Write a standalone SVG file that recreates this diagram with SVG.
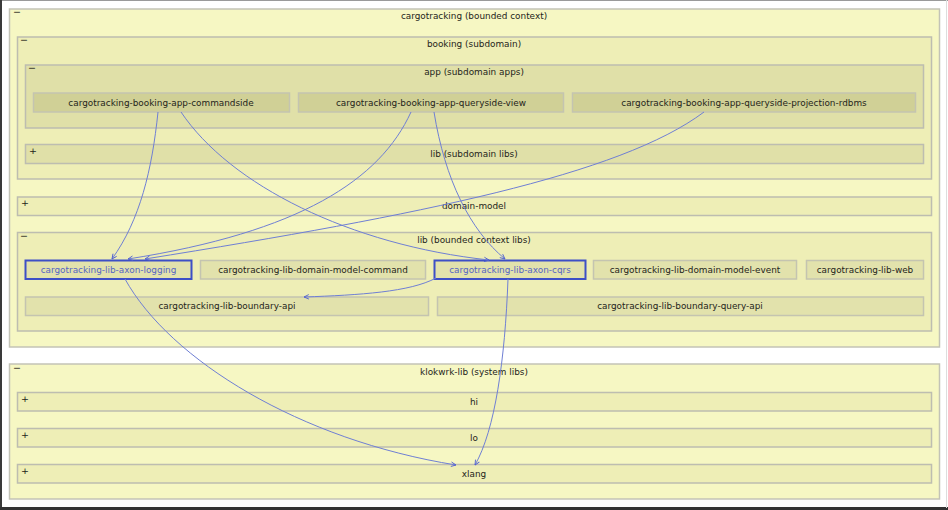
<svg xmlns="http://www.w3.org/2000/svg" width="948" height="510" viewBox="0 0 948 510">
<defs>
<style>
text{font-family:"DejaVu Sans","Liberation Sans",sans-serif;font-size:8.9px;fill:#24241a;text-anchor:middle}
.tg{text-anchor:start;font-size:9.5px}
.c0{fill:#f6f7c3;stroke:#c3c3b6;stroke-width:1.5}
.c1{fill:#eeeeb6;stroke:#bdbdb0;stroke-width:1.5}
.c2{fill:#e0e0a8;stroke:#bdbdb0;stroke-width:1.5}
.n2{fill:#d0d096;stroke:#c4c4b0;stroke-width:1.5}
.n1{fill:#e2e2ac;stroke:#c4c4b0;stroke-width:1.5}
.sel{fill:#e2e2ac;stroke:#3d4fc6;stroke-width:2}
.st{fill:#5565c4}
.e{fill:none;stroke:#6f7fd4;stroke-width:1;marker-end:url(#ah)}
</style>
<marker id="ah" viewBox="0 0 8 8" refX="7.5" refY="4" markerWidth="6" markerHeight="6" markerUnits="userSpaceOnUse" orient="auto">
<path d="M1,1 L7.5,4 L1,7" fill="none" stroke="#5060d0" stroke-width="1.2"/>
</marker>
</defs>
<rect x="0" y="0" width="948" height="510" fill="#ffffff"/>
<line x1="0" y1="0.5" x2="948" y2="0.5" stroke="#9a9a9a"/>
<line x1="1" y1="0" x2="1" y2="510" stroke="#3a3a3a" stroke-width="2"/>
<line x1="0" y1="508.5" x2="948" y2="508.5" stroke="#333333" stroke-width="3"/>
<line x1="946.5" y1="0" x2="946.5" y2="508" stroke="#dddddd"/>

<g id="cargotracking">
<rect class="c0" x="9.5" y="9" width="930" height="338"/>
<text x="474" y="19">cargotracking (bounded context)</text>
<text class="tg" x="13" y="15">−</text>
</g>
<g id="booking">
<rect class="c1" x="17.5" y="37" width="914" height="142"/>
<text x="474" y="47">booking (subdomain)</text>
<text class="tg" x="20" y="43">−</text>
</g>
<g id="app">
<rect class="c2" x="25.5" y="65" width="898" height="63"/>
<text x="474" y="75">app (subdomain apps)</text>
<text class="tg" x="28" y="71">−</text>
</g>
<g id="commandside">
<rect class="n2" x="33.5" y="93" width="256" height="19"/>
<text x="161" y="106">cargotracking-booking-app-commandside</text>
</g>
<g id="queryside-view">
<rect class="n2" x="298.5" y="93" width="265" height="19"/>
<text x="431" y="106">cargotracking-booking-app-queryside-view</text>
</g>
<g id="projection-rdbms">
<rect class="n2" x="572.5" y="93" width="343" height="19"/>
<text x="744" y="106">cargotracking-booking-app-queryside-projection-rdbms</text>
</g>
<g id="subdomain-libs">
<rect class="c2" x="25.5" y="144.5" width="898" height="19"/>
<text x="474" y="157">lib (subdomain libs)</text>
<text class="tg" x="29" y="154">+</text>
</g>
<g id="domain-model">
<rect class="c1" x="17.5" y="197" width="914" height="18.5"/>
<text x="474" y="209">domain-model</text>
<text class="tg" x="21" y="206">+</text>
</g>
<g id="bc-libs">
<rect class="c1" x="17.5" y="232.5" width="914" height="98.5"/>
<text x="474" y="243">lib (bounded context libs)</text>
<text class="tg" x="20" y="239">−</text>
</g>
<g id="axon-logging">
<rect class="sel" x="25.5" y="260.5" width="166" height="18.5"/>
<text class="st" x="108.5" y="273">cargotracking-lib-axon-logging</text>
</g>
<g id="domain-model-command">
<rect class="n1" x="200.5" y="260.5" width="225" height="18.5"/>
<text x="313" y="273">cargotracking-lib-domain-model-command</text>
</g>
<g id="axon-cqrs">
<rect class="sel" x="434.5" y="260.5" width="151" height="18.5"/>
<text class="st" x="510" y="273">cargotracking-lib-axon-cqrs</text>
</g>
<g id="domain-model-event">
<rect class="n1" x="593.5" y="260.5" width="203" height="18.5"/>
<text x="695" y="273">cargotracking-lib-domain-model-event</text>
</g>
<g id="lib-web">
<rect class="n1" x="806.5" y="260.5" width="117" height="18.5"/>
<text x="865" y="273">cargotracking-lib-web</text>
</g>
<g id="boundary-api">
<rect class="n1" x="25.5" y="297" width="403" height="18.5"/>
<text x="227" y="309">cargotracking-lib-boundary-api</text>
</g>
<g id="boundary-query-api">
<rect class="n1" x="437.5" y="297" width="486" height="18.5"/>
<text x="680" y="309">cargotracking-lib-boundary-query-api</text>
</g>

<g id="klokwrk-lib">
<rect class="c0" x="9.5" y="364" width="930" height="135"/>
<text x="474" y="375">klokwrk-lib (system libs)</text>
<text class="tg" x="13" y="371">−</text>
</g>
<g id="hi">
<rect class="c1" x="17.5" y="392.5" width="914" height="18.5"/>
<text x="474" y="405">hi</text>
<text class="tg" x="21" y="402">+</text>
</g>
<g id="lo">
<rect class="c1" x="17.5" y="428.5" width="914" height="18.5"/>
<text x="474" y="441">lo</text>
<text class="tg" x="21" y="438">+</text>
</g>
<g id="xlang">
<rect class="c1" x="17.5" y="464.5" width="914" height="18.5"/>
<text x="474" y="477">xlang</text>
<text class="tg" x="21" y="474">+</text>
</g>

<g id="connectors">
<path class="e" d="M158,112 C152,170 140,220 112,259"/>
<path class="e" d="M181,112 C230,185 350,245 489,260"/>
<path class="e" d="M411,112 C380,180 300,232 128,259"/>
<path class="e" d="M434,112 C445,180 470,230 505,259"/>
<path class="e" d="M704,112 C620,175 420,215 145,259"/>
<path class="e" d="M436,278 C410,292 360,295 304,297"/>
<path class="e" d="M125,279 C170,360 300,440 456,465"/>
<path class="e" d="M508,279 C505,360 495,430 475,465"/>
</g>
</svg>
